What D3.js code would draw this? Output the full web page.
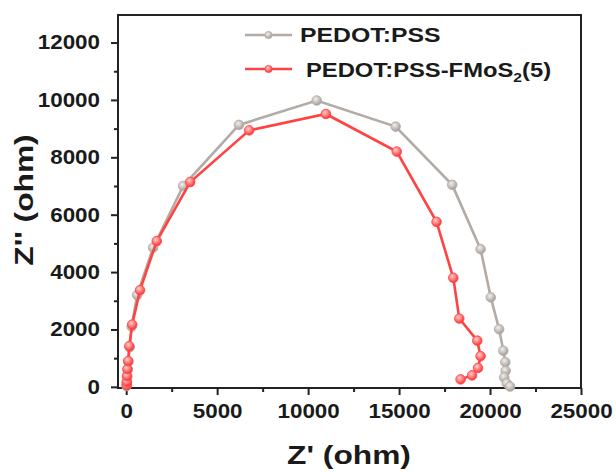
<!DOCTYPE html>
<html lang="en">
<head>
  <meta charset="utf-8" />
  <title>Nyquist plot</title>
  <script src="https://cdnjs.cloudflare.com/ajax/libs/d3/7.8.5/d3.min.js"></script>
  <style>
    body { margin: 0; background: #fff; }
    svg { display: block; }
    .tick text { font-family: 'Liberation Sans', Arial, sans-serif; font-weight: bold; font-size: 20px; fill: #1a1a1a; }
    .tick line { stroke: #222; stroke-width: 2; }
    .lbl { font-family: 'Liberation Sans', Arial, sans-serif; font-weight: bold; fill: #1a1a1a; }
  </style>
</head>
<body>
<svg id="chart" width="616" height="473"></svg>
<script>
// PEDOT:PSS (grey)
const pedotX = [20, 30, 50, 80, 120, 190, 300, 600, 1480, 3130, 6200, 10470, 14810, 17920, 19480, 20040, 20500, 20730, 20840, 20860, 20780, 20920, 21100];
const pedotY = [30, 150, 350, 600, 880, 1380, 2100, 3200, 4850, 7000, 9130, 9980, 9070, 7040, 4800, 3120, 2010, 1260, 860, 560, 330, 120, 10];
// PEDOT:PSS-FMoS2(5) (red)
const fmosX = [30, 40, 50, 70, 110, 170, 330, 760, 1680, 3520, 6760, 10980, 14870, 17060, 17980, 18310, 19300, 19480, 19340, 19010, 18380];
const fmosY = [60, 180, 380, 620, 900, 1420, 2170, 3370, 5080, 7140, 8940, 9510, 8200, 5750, 3800, 2380, 1610, 1070, 660, 400, 260];

const xTicks = [0, 5000, 10000, 15000, 20000, 25000];
const xMinor = [2500, 7500, 12500, 17500, 22500];
const yTicks = [0, 2000, 4000, 6000, 8000, 10000, 12000];
const yMinor = [1000, 3000, 5000, 7000, 9000, 11000];

const svg = d3.select("#chart");
const plot = { left: 118, right: 581, top: 15, bottom: 388 };

const x = d3.scaleLinear().domain([-450, 25000]).range([plot.left, plot.right]);
const y = d3.scaleLinear().domain([-40, 12960]).range([plot.bottom, plot.top]);

// marker shading
const defs = svg.append("defs");
function grad(id, hi, lo) {
  const g = defs.append("radialGradient").attr("id", id).attr("cx", "40%").attr("cy", "35%").attr("r", "65%");
  g.append("stop").attr("offset", "0%").attr("stop-color", hi);
  g.append("stop").attr("offset", "100%").attr("stop-color", lo);
}
grad("gGrey", "#f2efec", "#a39c97");
grad("gRed", "#ffd0d0", "#ff3030");

// axes (outward ticks, bottom and left only)
const sx = 1.12;
svg.append("g").attr("transform", `translate(0,${plot.bottom})`)
  .call(d3.axisBottom(x).tickValues(xTicks).tickSize(7).tickPadding(9).tickFormat(d3.format("d")));
svg.append("g").attr("transform", `translate(0,${plot.bottom})`)
  .call(d3.axisBottom(x).tickValues(xMinor).tickSize(4).tickFormat(""));
svg.append("g").attr("class", "yaxis").attr("transform", `translate(${plot.left},0)`)
  .call(d3.axisLeft(y).tickValues(yTicks).tickSize(7).tickPadding(9).tickFormat(d3.format("d")));
svg.append("g").attr("transform", `translate(${plot.left},0)`)
  .call(d3.axisLeft(y).tickValues(yMinor).tickSize(4).tickFormat(""));
svg.selectAll(".domain").remove();
svg.selectAll(".tick text").attr("transform", `scale(${sx},1)`);
svg.selectAll(".yaxis .tick text").attr("x", -18 / sx);

svg.append("rect")
  .attr("x", plot.left).attr("y", plot.top)
  .attr("width", plot.right - plot.left).attr("height", plot.bottom - plot.top)
  .attr("fill", "none").attr("stroke", "#222").attr("stroke-width", 2);

// series
const series = [
  { name: "grey", xs: pedotX, ys: pedotY, color: "#b2aba6", fill: "url(#gGrey)" },
  { name: "red", xs: fmosX, ys: fmosY, color: "#ff4242", fill: "url(#gRed)" }
];

series.forEach(s => {
  const pts = s.xs.map((v, i) => [v, s.ys[i]]);
  svg.append("path")
    .datum(pts)
    .attr("fill", "none")
    .attr("stroke", s.color)
    .attr("stroke-width", 2.6)
    .attr("d", d3.line().x(d => x(d[0])).y(d => y(d[1])));
  svg.selectAll(`.dot-${s.name}`)
    .data(pts)
    .enter()
    .append("circle")
    .attr("cx", d => x(d[0]))
    .attr("cy", d => y(d[1]))
    .attr("r", 4.8)
    .attr("fill", s.fill)
    .attr("stroke", s.color)
    .attr("stroke-width", 0.8);
});

// legend
const legendRows = [
  { y: 35, color: "#b2aba6", fill: "url(#gGrey)", tx: 300, ty: 42 },
  { y: 69, color: "#ff4242", fill: "url(#gRed)", tx: 306, ty: 77 }
];
legendRows.forEach(r => {
  svg.append("line").attr("x1", 245).attr("x2", 292).attr("y1", r.y).attr("y2", r.y)
    .attr("stroke", r.color).attr("stroke-width", 2.6);
  svg.append("circle").attr("cx", 268.5).attr("cy", r.y).attr("r", 3.6)
    .attr("fill", r.fill).attr("stroke", r.color).attr("stroke-width", 0.8);
});

svg.append("text").attr("class", "lbl")
  .attr("transform", `translate(${legendRows[0].tx},${legendRows[0].ty}) scale(1.21,1)`)
  .style("font-size", "20.5px").text("PEDOT:PSS");
const t2 = svg.append("text").attr("class", "lbl")
  .attr("transform", `translate(${legendRows[1].tx},${legendRows[1].ty}) scale(1.16,1)`)
  .style("font-size", "20.5px");
t2.append("tspan").text("PEDOT:PSS-FMoS");
t2.append("tspan").attr("dy", 5).style("font-size", "13.5px").text("2");
t2.append("tspan").attr("dy", -5).text("(5)");

// axis titles
svg.append("text").attr("class", "lbl")
  .attr("transform", `translate(349,464) scale(1.22,1)`)
  .attr("text-anchor", "middle")
  .style("font-size", "26px").text("Z' (ohm)");

svg.append("text").attr("class", "lbl")
  .attr("transform", `translate(33,200) rotate(-90) scale(1.22,1)`)
  .attr("text-anchor", "middle")
  .style("font-size", "26px").text("Z'' (ohm)");
</script>
</body>
</html>
